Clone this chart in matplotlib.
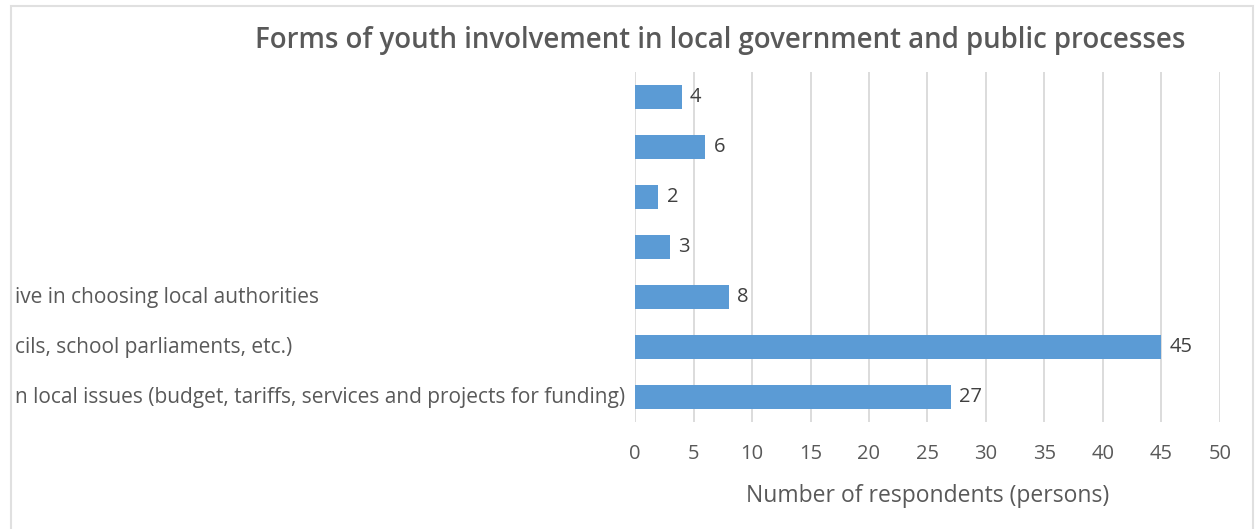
import matplotlib.pyplot as plt
from matplotlib.patches import Rectangle
import numpy as np

# values top to bottom, as shown in the chart
labels_visible = ['', '', '', '',
                  'ive in choosing local authorities',
                  'cils, school parliaments, etc.)',
                  'n local issues (budget, tariffs, services and projects for funding)']
values = [4, 6, 2, 3, 8, 45, 27]
ticks = [0, 5, 10, 15, 20, 25, 30, 35, 40, 45, 50]

title = 'Forms of youth involvement in local government and public processes'
xlabel = 'Number of respondents (persons)'

plt.rcParams['font.family'] = ['Open Sans', 'DejaVu Sans']
txt = '#595959'

fig = plt.figure(figsize=(12.56, 5.29), dpi=100)
fig.patches.append(Rectangle((11 / 1256, -0.05), (1253 - 11) / 1256, 1.05 - 6 / 529,
                             transform=fig.transFigure, fill=False,
                             edgecolor='#e0e0e0', linewidth=1.5))

ax = fig.add_axes([635 / 1256, 107 / 529, 585 / 1256, 350 / 529])
y = np.arange(len(values))
ax.barh(y, values, height=0.48, color='#5b9bd5', zorder=3)
ax.set_ylim(len(values) - 0.5, -0.5)
ax.set_xlim(0, 50)
ax.set_xticks(ticks)
ax.set_yticks([])
ax.grid(axis='x', color='#d9d9d9', linewidth=1.3, zorder=0)
for s in ax.spines.values():
    s.set_visible(False)
ax.tick_params(axis='x', length=0, pad=16, labelsize=14.5, labelcolor=txt)
ax.set_xlabel(xlabel, fontsize=16.5, color=txt, labelpad=14)

for yi, v in zip(y, values):
    ax.text(v + 0.7, yi, str(v), va='center', ha='left', fontsize=14.5, color='#404040')

for yi, lab in zip(y, labels_visible):
    if lab:
        fig.text(15 / 1256, 1 - (97 + 50 * yi) / 529, lab, ha='left', va='center',
                 fontsize=15, color=txt)

fig.text(720 / 1256, 1 - 40 / 529, title, ha='center', va='center',
         fontsize=19.9, fontweight='semibold', color=txt)

fig.savefig('out.png', dpi=100, facecolor='white')
